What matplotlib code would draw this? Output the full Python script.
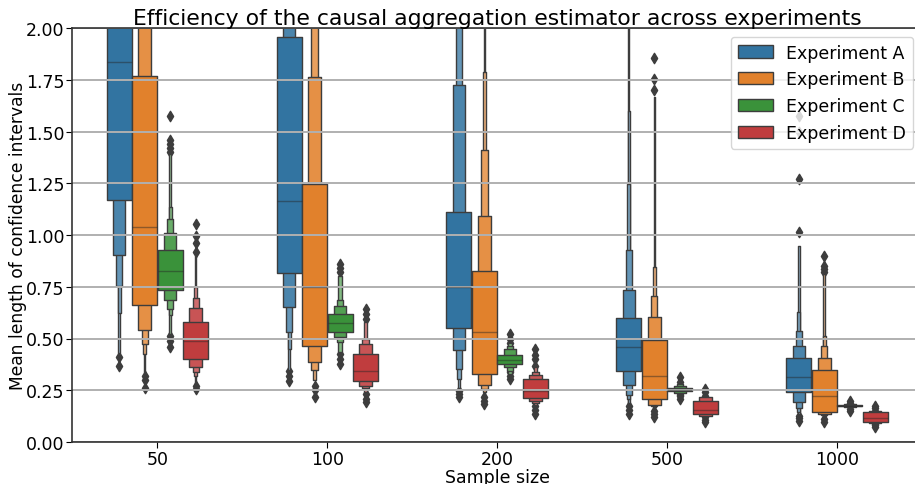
import matplotlib
matplotlib.use("Agg")
import matplotlib.pyplot as plt
import matplotlib.colors as mcolors
from matplotlib.patches import Rectangle, Patch
from matplotlib.collections import PatchCollection
import numpy as np

sizes = ["50", "100", "200", "500", "1000"]
experiments = ["Experiment A", "Experiment B", "Experiment C", "Experiment D"]
colors = ["#3274a1", "#e1812c", "#3a923a", "#c03d3e"]

# letter-value boxes per sample size, innermost (IQR) first
a_levels = [
    [(1.169, 2.40), (0.902, 2.9), (0.755, 3.4), (0.623, 3.9), (0.43, 4.5)],
    [(0.816, 1.955), (0.651, 2.4), (0.533, 2.9), (0.449, 3.4), (0.35, 4.0)],
    [(0.549, 1.113), (0.444, 1.725), (0.353, 2.3), (0.304, 2.8), (0.26, 3.3)],
    [(0.344, 0.599), (0.277, 0.736), (0.227, 0.929), (0.208, 1.246), (0.19, 1.60), (0.18, 2.3)],
    [(0.240, 0.404), (0.192, 0.465), (0.163, 0.535), (0.145, 0.627), (0.135, 0.948)],
]
b_levels = [
    [(0.662, 1.766), (0.541, 2.3), (0.473, 2.8), (0.425, 3.3), (0.34, 3.8)],
    [(0.465, 1.246), (0.388, 1.765), (0.349, 2.3), (0.30, 2.8)],
    [(0.329, 0.828), (0.277, 1.090), (0.256, 1.411), (0.240, 1.789), (0.225, 2.3)],
    [(0.208, 0.493), (0.179, 0.605), (0.172, 0.707), (0.167, 0.844), (0.16, 1.665)],
    [(0.143, 0.349), (0.135, 0.404), (0.130, 0.465), (0.127, 0.514), (0.12, 0.812)],
]
c_levels = [
    [(0.734, 0.929), (0.684, 1.008), (0.643, 1.077), (0.613, 1.134), (0.52, 1.39)],
    [(0.533, 0.618), (0.506, 0.656), (0.482, 0.686), (0.435, 0.80)],
    [(0.377, 0.420), (0.361, 0.449), (0.344, 0.465), (0.33, 0.48)],
    [(0.245, 0.262), (0.239, 0.27), (0.233, 0.28)],
    [(0.172, 0.180), (0.168, 0.185)],
]
d_levels = [
    [(0.401, 0.578), (0.361, 0.646), (0.337, 0.696), (0.32, 0.747), (0.28, 0.90)],
    [(0.293, 0.425), (0.272, 0.473), (0.259, 0.498), (0.24, 0.58)],
    [(0.211, 0.304), (0.197, 0.325), (0.188, 0.340), (0.18, 0.36)],
    [(0.135, 0.197), (0.125, 0.216)],
    [(0.098, 0.143), (0.092, 0.150)],
]

a_medians = [1.834, 1.163, 0.750, 0.457, 0.316]
b_medians = [1.040, 0.750, 0.533, 0.317, 0.224]
c_medians = [0.828, 0.575, 0.398, 0.253, 0.176]
d_medians = [0.486, 0.344, 0.248, 0.156, 0.116]

a_outliers = [
    [0.41, 0.365],
    [0.344, 0.32, 0.296],
    [0.248, 0.23, 0.216],
    [0.175, 0.155, 0.135],
    [1.576, 1.496, 1.269, 1.013, 0.127, 0.115, 0.103],
]
b_outliers = [
    [0.32, 0.30, 0.26],
    [0.272, 0.25, 0.216],
    [0.216, 0.20, 0.184],
    [1.853, 1.754, 1.702, 0.151, 0.135, 0.119],
    [0.900, 0.852, 0.836, 0.82, 0.111, 0.095],
]
c_outliers = [
    [1.573, 1.46, 1.44, 1.42, 1.40, 0.513, 0.49, 0.457],
    [0.86, 0.84, 0.82, 0.425, 0.40, 0.377],
    [0.522, 0.50, 0.48, 0.337, 0.32, 0.304],
    [0.313, 0.29, 0.272, 0.228, 0.22, 0.208],
    [0.20, 0.19, 0.16, 0.151],
]
d_outliers = [
    [1.052, 0.997, 0.96, 0.916, 0.272, 0.256],
    [0.643, 0.62, 0.594, 0.232, 0.21, 0.192],
    [0.449, 0.42, 0.40, 0.369, 0.175, 0.155, 0.135],
    [0.256, 0.24, 0.224, 0.119, 0.105, 0.095],
    [0.175, 0.165, 0.151, 0.087, 0.08, 0.071],
]

all_levels = [a_levels, b_levels, c_levels, d_levels]
all_medians = [a_medians, b_medians, c_medians, d_medians]
all_outliers = [a_outliers, b_outliers, c_outliers, d_outliers]

gray = "#3d3d3d"
group_width = 0.6
each = group_width / len(experiments)
offsets = np.linspace(0, group_width - each, len(experiments))
offsets -= offsets.mean()
box_w = each * 0.98
depth = 8  # assumed total letter-value depth for the colour ramp

fig = plt.figure(figsize=(9.15, 4.85), dpi=100)
ax = fig.add_axes([0.0792, 0.0866, 0.9284, 0.8536])

for e, name in enumerate(experiments):
    base = colors[e]
    light = mcolors.LinearSegmentedColormap.from_list("w", [base, (1, 1, 1)])(0.85)
    cmap = mcolors.LinearSegmentedColormap.from_list("lv", [base, light])
    for s in range(len(sizes)):
        x = s + offsets[e]
        levels = all_levels[e][s]
        boxes = []
        vals = []
        # outermost drawn first so the IQR ends up on top
        for j in range(len(levels) - 1, -1, -1):
            lo, hi = levels[j]
            w = box_w * 0.5 ** j
            boxes.append(Rectangle((x - w / 2, lo), w, hi - lo))
            vals.append(j / (depth - 1))
        ax.plot([x - box_w / 2, x + box_w / 2], [all_medians[e][s]] * 2,
                c=".15", alpha=0.45, lw=1.0, solid_capstyle="butt")
        out = all_outliers[e][s]
        ax.scatter(np.full(len(out), x), out, marker="d", c=gray, s=28)
        coll = PatchCollection(boxes, cmap=cmap, edgecolor=gray, linewidth=1.0)
        coll.set_array(np.array(vals))
        coll.set_clim(0, 1)
        ax.add_collection(coll)

ax.set_xlim(-0.5, len(sizes) - 0.5)
ax.set_ylim(0, 2.0)
ax.set_xticks(range(len(sizes)))
ax.set_xticklabels(sizes)
ax.set_yticks(np.arange(0, 2.01, 0.25))
ax.yaxis.set_major_formatter(matplotlib.ticker.FormatStrFormatter("%.2f"))
ax.tick_params(labelsize=12.5, length=4.5, pad=1.5)
ax.yaxis.grid(True, color="#b0b0b0", linewidth=1.4)
for sp in ax.spines.values():
    sp.set_color("#333333")
    sp.set_linewidth(1.2)

ax.set_xlabel("Sample size", fontsize=12.5, labelpad=-0.5)
ax.set_ylabel("Mean length of confidence intervals", fontsize=12.3, labelpad=-1)
ax.set_title("Efficiency of the causal aggregation estimator across experiments",
             fontsize=15.75, pad=2)

handles = [Patch(facecolor=c, edgecolor=gray, label=n) for c, n in zip(colors, experiments)]
ax.legend(handles=handles, loc="upper right", fontsize=12.5)

fig.savefig("out.png", dpi=100)
